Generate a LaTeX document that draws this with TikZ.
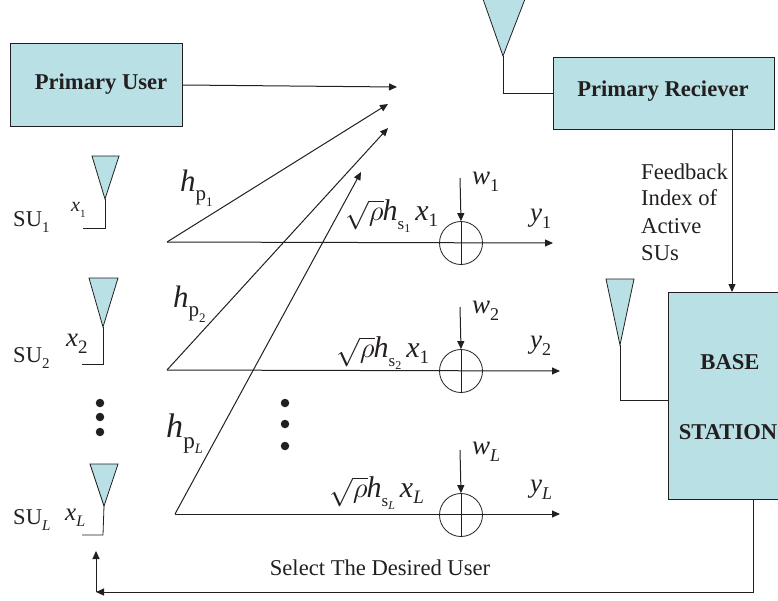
\documentclass[tikz,border=0pt]{standalone}
\usepackage{fontspec}
\setmainfont{Liberation Serif}
\usetikzlibrary{arrows.meta}
\definecolor{boxfill}{RGB}{185,224,228}
\definecolor{ink}{RGB}{35,31,32}
\newcommand{\fs}[1]{\fontsize{#1}{#1}\selectfont}
\newcommand{\hlab}[2]{{\fs{31}\textit{h}}\raisebox{-.42em}{\fs{21}p\raisebox{-.25em}{\fs{13}#2}}}
\newcommand{\gain}[2]{{\fs{30}\scalebox{2.85}{\fs{10}$\sqrt{\rho}$}\kern-1pt\textit{h}\raisebox{-.3em}{\fs{17}s\raisebox{-.2em}{\fs{12}#1}}\,\textit{x}\raisebox{-.2em}{\fs{19}#2}}}
\tikzset{
 x=1pt,y=-1pt,
 boxst/.style={draw=ink,fill=boxfill,line width=.9pt,inner sep=0pt,anchor=north west},
 ant/.style={draw=ink,fill=boxfill,line width=.8pt,line join=miter},
 wire/.style={draw=ink,line width=1pt},
 arr/.style={draw=ink,line width=1pt,-{Triangle[length=8pt,width=7pt]}},
 adder/.style={circle,draw=ink,line width=.8pt,minimum size=43pt,inner sep=0pt},
 dotst/.style={circle,fill=ink,minimum size=8.5pt,inner sep=0pt},
 lab/.style={inner sep=0pt,text=ink,font=\fs{22.6}},
 blab/.style={inner sep=0pt,text=ink,font=\fs{22.6}\bfseries},
 ital/.style={inner sep=0pt,text=ink,font=\fs{27}},
}
\begin{document}
\begin{tikzpicture}
\useasboundingbox (0,0) rectangle (778,600);
% boxes
\node[boxst,minimum width=172pt,minimum height=83pt,anchor=north west] (pu) at (10,43) {};
\node[blab] (putext) at (101,84) {Primary User};
\node[boxst,minimum width=221pt,minimum height=72pt] (pr) at (553,57) {};
\node[blab] (prtext) at (663,91) {Primary Reciever};
\node[boxst,minimum width=112pt,minimum height=207pt] (bs) at (668,292) {};
\node[blab] (bs1) at (730,362) {BASE};
\node[blab] (bs2) at (728,432) {STATION};
% top antennas
\coordinate (a0) at (503,56);
\draw[ant] (483,-1) -- (525,-1) -- (a0) -- cycle;
\draw[wire] (a0) -- (503,93) -- (pr.west |- 503,93);
\coordinate (a4) at (620,345);
\draw[ant] (606,279) -- (634,279) -- (a4) -- cycle;
\draw[wire] (a4) -- (620,400) -- (bs.west |- 620,400);
% SU antennas
\coordinate (a1) at (105,199);
\draw[ant] (92,156) -- (119,156) -- (a1) -- cycle;
\draw[wire,line width=.8pt] (a1) -- (105,228) -- (83,228);
\coordinate (a2) at (103,327);
\draw[ant] (89,278) -- (118,278) -- (a2) -- cycle;
\draw[wire,line width=.8pt] (a2) -- (103,364) -- (82,364);
\coordinate (a3) at (104,506);
\draw[ant] (90,464) -- (118,464) -- (a3) -- cycle;
\draw[wire,line width=.8pt] (a3) -- (103,535) -- (82,535);
% coordinates
\coordinate (s1) at (167,242);
\coordinate (s2) at (167,370);
\coordinate (s3) at (175,514);
\coordinate (t0) at (397,87);
\coordinate (t1) at (388,104);
\coordinate (t2) at (388,128);
\coordinate (t3) at (361,172);
\coordinate (y1) at (553,243);
\coordinate (y2) at (560,371);
\coordinate (y3) at (560,514);
% adders
\node[adder] (c1) at (461,243) {};
\node[adder] (c2) at (461,371) {};
\node[adder] (c3) at (461,515) {};
\foreach \n in {1,2,3}{\draw[ink,line width=.8pt] (c\n.north) -- (c\n.south);}
% arrows
\draw[arr] (pu.east |- 182,85) -- (t0);
\draw[arr] (s1) -- (t1);
\draw[arr] (s2) -- (t2);
\draw[arr] (s3) -- (t3);
\draw[arr] (s1) -- (y1);
\draw[arr] (s2) -- (y2);
\draw[arr] (s3) -- (y3);
\coordinate (w1) at (460,178);
\coordinate (w2) at (460,307);
\coordinate (w3) at (460,450);
\draw[arr] (w1) -- (c1.north);
\draw[arr] (w2) -- (c2.north);
\draw[arr] (w3) -- (c3.north);
\draw[arr] (pr.south -| 732,129) -- (bs.north -| 732,292);
\coordinate (cor) at (96,592);
\draw[arr] (bs.south -| 753,499) -- (753,592) -- (cor);
\draw[arr] (cor) -- (96,551);
% dots
\foreach \y [count=\i] in {403,417,432}{\node[dotst] (da\i) at (100,\y) {};}
\foreach \y [count=\i] in {403,424,446}{\node[dotst] (db\i) at (285,\y) {};}
% labels
\node[lab,anchor=west] (su1) at (13,222) {SU\raisebox{-.3em}{\fs{15}1}};
\node[lab,anchor=west] (su2) at (13,358) {SU\raisebox{-.3em}{\fs{15}2}};
\node[lab,anchor=west] (su3) at (13,520) {SU\raisebox{-.3em}{\fs{15}\textit{L}}};
\node[lab,anchor=west] (x1) at (71,210) {\fs{20}\textit{x}\raisebox{-.3em}{\fs{11}1}};
\node[ital,anchor=west] (x2) at (66,344) {\textit{x}\raisebox{-.25em}{\fs{19}2}};
\node[lab,anchor=west] (x3) at (65,518) {\fs{25}\textit{x}\raisebox{-.25em}{\fs{16}\textit{L}}};
\node[lab,anchor=west] (h1) at (180,188) {\hlab{}{1}};
\node[lab,anchor=west] (h2) at (173,304) {\hlab{}{2}};
\node[lab,anchor=west,scale=1.1] (h3) at (166,434) {\hlab{}{\textit{L}}};
\node[lab,anchor=base west] (g1) at (345,220) {\gain{1}{1}};
\node[lab,anchor=base west] (g2) at (336,357) {\gain{2}{1}};
\node[lab,anchor=base west] (g3) at (329,497) {\gain{\textit{L}}{\textit{L}}};
\node[ital,anchor=west] (wl1) at (472,182) {\textit{w}\raisebox{-.25em}{\fs{18}1}};
\node[ital,anchor=west] (wl2) at (472,311) {\textit{w}\raisebox{-.25em}{\fs{18}2}};
\node[ital,anchor=west] (wl3) at (472,452) {\textit{w}\raisebox{-.25em}{\fs{18}\textit{L}}};
\node[ital,anchor=west] (yl1) at (530,219) {\textit{y}\raisebox{-.25em}{\fs{18}1}};
\node[ital,anchor=west] (yl2) at (530,346) {\textit{y}\raisebox{-.25em}{\fs{18}2}};
\node[ital,anchor=west] (yl3) at (530,490) {\textit{y}\raisebox{-.25em}{\fs{18}\textit{L}}};
\node[lab,anchor=west] (f1) at (641,172) {Feedback};
\node[lab,anchor=west] (f2) at (641,198) {Index of};
\node[lab,anchor=west] (f3) at (641,226) {Active};
\node[lab,anchor=west] (f4) at (641,253) {SUs};
\node[lab] (sel) at (380,568) {Select The Desired User};
\end{tikzpicture}
\end{document}
